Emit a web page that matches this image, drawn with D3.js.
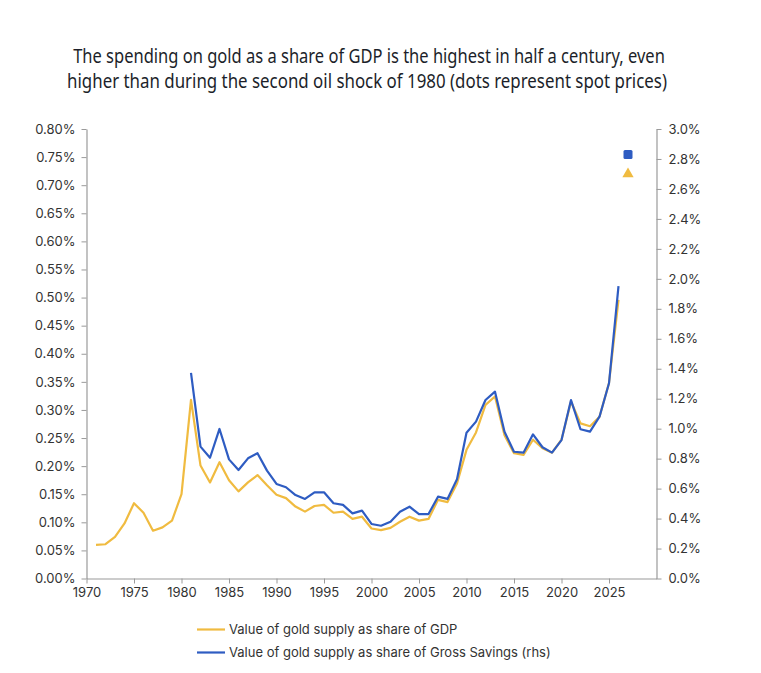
<!DOCTYPE html>
<html>
<head>
<meta charset="utf-8">
<script src="https://cdn.jsdelivr.net/npm/d3@7"></script>
<style>
  html, body { margin: 0; padding: 0; background: #ffffff; }
  svg { display: block; }
  .tick text { font-family: Inter, "Noto Sans", sans-serif; font-size: 13px; fill: #333; }
</style>
</head>
<body>
<svg id="chart" width="761" height="673"></svg>
<script>
// ---- data ----
const titleLines = [
  "The spending on gold as a share of GDP is the highest in half a century, even",
  "higher than during the second oil shock of 1980 (dots represent spot prices)"
];
const gdpYears = d3.range(1971, 2027);
const gdpShare = [0.060,0.061,0.074,0.098,0.134,0.117,0.085,0.091,0.103,0.150,
  0.318,0.201,0.171,0.207,0.175,0.155,0.171,0.184,0.166,0.149,
  0.143,0.128,0.119,0.129,0.131,0.117,0.119,0.106,0.110,0.089,
  0.086,0.090,0.101,0.110,0.103,0.106,0.140,0.136,0.169,0.229,
  0.260,0.309,0.324,0.255,0.223,0.220,0.247,0.232,0.224,0.247,
  0.315,0.276,0.271,0.288,0.348,0.496];
const savYears = d3.range(1981, 2027);
const savShare = [1.373,0.880,0.806,0.998,0.795,0.724,0.802,0.836,0.720,0.631,
  0.609,0.557,0.531,0.575,0.575,0.502,0.491,0.435,0.453,0.364,
  0.352,0.379,0.446,0.479,0.430,0.430,0.546,0.531,0.662,0.973,
  1.047,1.191,1.247,0.980,0.846,0.840,0.962,0.876,0.840,0.924,
  1.191,0.996,0.980,1.080,1.303,1.952];
const spotYear = 2027;
const spotGdp = 0.72;     // triangle, left axis
const spotSav = 2.83;     // square, right axis
const xTicks = d3.range(1970, 2026, 5);
const leftTicks = d3.range(0, 0.8001, 0.05);
const rightTicks = d3.range(0, 3.0001, 0.2);
const legendLabels = [
  "Value of gold supply as share of GDP",
  "Value of gold supply as share of Gross Savings (rhs)"
];

// ---- styles ----
const yellow = "#F0BB40";
const blue = "#2E5CC2";
const axisColor = "#9a9a9a";

const svg = d3.select("#chart");

// title (condensed look by horizontal scaling to the reference width)
const titleSpecs = [{cx: 369, y: 63, w: 592}, {cx: 367, y: 88, w: 600}];
titleLines.forEach((t, i) => {
  const s = titleSpecs[i];
  const g = svg.append("g");
  const txt = g.append("text").attr("x", 0).attr("y", 0)
    .attr("text-anchor", "middle")
    .style("font-family", '"Noto Sans", sans-serif')
    .style("font-size", "20px").style("fill", "#1c1f2a").text(t);
  const natural = txt.node().getComputedTextLength();
  const k = s.w / natural;
  g.attr("transform", `translate(${s.cx},${s.y}) scale(${k},1)`);
});

// scales
const x = d3.scaleLinear().domain([1970, 2030]).range([86.5, 656.5]);
const yL = d3.scaleLinear().domain([0, 0.8]).range([578.5, 129]);
const yR = d3.scaleLinear().domain([0, 3.0]).range([578.5, 129]);

// axes
const gx = svg.append("g").attr("transform", "translate(0,578.5)")
  .call(d3.axisBottom(x).tickValues(xTicks).tickFormat(d3.format("d")).tickSize(5).tickPadding(4).tickSizeOuter(0));
const gl = svg.append("g").attr("transform", "translate(86.5,0)")
  .call(d3.axisLeft(yL).tickValues(leftTicks).tickFormat(d => d.toFixed(2) + "%").tickSize(5).tickPadding(6).tickSizeOuter(0));
const gr = svg.append("g").attr("transform", "translate(656.5,0)")
  .call(d3.axisRight(yR).tickValues(rightTicks).tickFormat(d => d.toFixed(1) + "%").tickSize(5).tickPadding(7).tickSizeOuter(0));
[gx, gl, gr].forEach(g => {
  g.select(".domain").attr("stroke", axisColor).attr("stroke-width", 1.2);
  g.selectAll(".tick line").attr("stroke", axisColor);
});

// lines
const lineL = d3.line().x(d => x(d[0])).y(d => yL(d[1]));
const lineR = d3.line().x(d => x(d[0])).y(d => yR(d[1]));
svg.append("path")
  .datum(gdpYears.map((yr, i) => [yr, gdpShare[i]]))
  .attr("d", lineL).attr("fill", "none").attr("stroke", yellow)
  .attr("stroke-width", 2.2).attr("stroke-linejoin", "round");
svg.append("path")
  .datum(savYears.map((yr, i) => [yr, savShare[i]]))
  .attr("d", lineR).attr("fill", "none").attr("stroke", blue)
  .attr("stroke-width", 2.2).attr("stroke-linejoin", "round");

// spot price dots
svg.append("rect")
  .attr("x", x(spotYear) - 4.5).attr("y", yR(spotSav) - 4.5)
  .attr("width", 9).attr("height", 9).attr("rx", 1.5)
  .attr("fill", blue);
svg.append("path")
  .attr("d", d3.symbol(d3.symbolTriangle, 55)())
  .attr("transform", `translate(${x(spotYear)},${yL(spotGdp)})`)
  .attr("fill", yellow);

// legend
const legend = svg.append("g");
[yellow, blue].forEach((c, i) => {
  const yy = 629.5 + i * 23;
  legend.append("line").attr("x1", 197).attr("x2", 225).attr("y1", yy).attr("y2", yy)
    .attr("stroke", c).attr("stroke-width", 2.2);
  legend.append("text").attr("x", 229).attr("y", yy).attr("dy", "0.35em")
    .style("font-family", 'Inter, "Noto Sans", sans-serif').style("font-size", "13px")
    .style("fill", "#333").text(legendLabels[i]);
});
</script>
</body>
</html>
